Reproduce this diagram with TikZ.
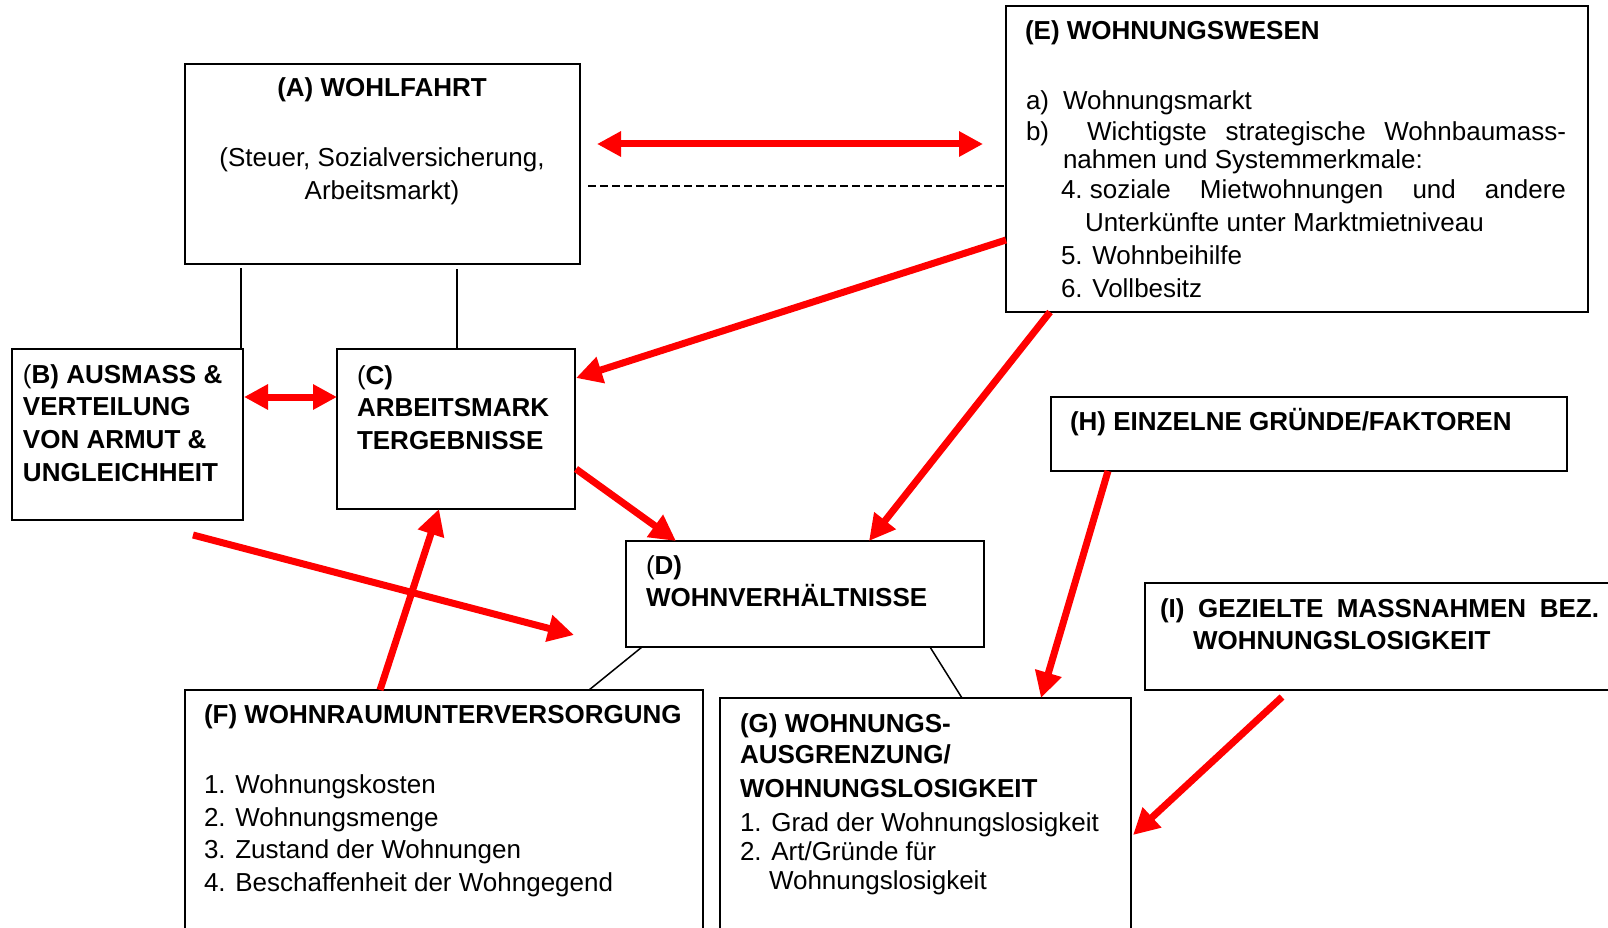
\documentclass[tikz,border=0pt]{standalone}
\usepackage{fontspec}
\setmainfont{Liberation Sans}
\usetikzlibrary{arrows.meta,calc}
\begin{document}
\begin{tikzpicture}[x=1pt,y=-1pt,
  box/.style={draw=black, line width=2pt, rectangle, inner sep=0pt, outer sep=0pt, anchor=north west},
  txt/.style={anchor=base west, inner sep=0pt, outer sep=0pt, font=\fontsize{26}{32}\selectfont},
  btxt/.style={txt, font=\fontsize{26}{32}\selectfont\bfseries},
  ctxt/.style={txt, anchor=base},
  link/.style={draw=black, line width=1.5pt},
  dashlink/.style={link, dash pattern=on 8pt off 4pt},
  redarrow/.style={draw=red, line width=7pt, -{Triangle[length=26pt,width=26pt]}},
  reddouble/.style={draw=red, line width=7pt, {Triangle[length=24pt,width=24pt]}-{Triangle[length=24pt,width=24pt]}},
]
\useasboundingbox (0,0) rectangle (1608,928);
\clip (0,0) rectangle (1608,928);
\fill[white] (0,0) rectangle (1608,928);

% boxes
\node[box, minimum width=395pt, minimum height=200pt] (A) at (185,64) {};
\node[box, minimum width=231pt, minimum height=171pt] (B) at (12,349) {};
\node[box, minimum width=238pt, minimum height=160pt] (C) at (337,349) {};
\node[box, minimum width=358pt, minimum height=106pt] (D) at (626,541) {};
\node[box, minimum width=582pt, minimum height=306pt] (E) at (1006,6) {};
\node[box, minimum width=518pt, minimum height=270pt] (F) at (185,690) {};
\node[box, minimum width=411pt, minimum height=262pt] (G) at (720,698) {};
\node[box, minimum width=516pt, minimum height=74pt] (H) at (1051,397) {};
\node[box, minimum width=480pt, minimum height=107pt] (I) at (1145,583) {};

% texts A
\node[ctxt, font=\fontsize{26}{32}\selectfont\bfseries] (At) at (382,97) {(A) WOHLFAHRT};
\node[ctxt] (A1) at (382,167) {(Steuer, Sozialversicherung,};
\node[ctxt] (A2) at (382,200) {Arbeitsmarkt)};

% texts E
\node[btxt] (Et) at (1025,40) {(E) WOHNUNGSWESEN};
\node[txt] (Ea) at (1026,110) {a)};
\node[txt] (Ea2) at (1063,110) {Wohnungsmarkt};
\node[txt] (Eb) at (1026,141) {b)};
\node[txt] (Eb2) at (1087,141) {\makebox[479pt][s]{Wichtigste\hfill strategische\hfill Wohnbaumass-}};
\node[txt] (Eb3) at (1063,169) {nahmen und Systemmerkmale:};
\node[txt] (E4) at (1061,199) {\makebox[505pt][s]{4.~soziale\hfill Mietwohnungen\hfill und\hfill andere}};
\node[txt] (E4b) at (1085,231) {Unterkünfte unter Marktmietniveau};
\node[txt] (E5) at (1061,264) {5. Wohnbeihilfe};
\node[txt] (E6) at (1061,297) {6. Vollbesitz};

% texts B
\node[btxt] (B1) at (23,383) {\mdseries(\bfseries B) AUSMASS \&};
\node[btxt] (B2) at (23,415) {VERTEILUNG};
\node[btxt] (B3) at (23,448) {VON ARMUT \&};
\node[btxt] (B4) at (23,481) {UNGLEICHHEIT};

% texts C
\node[btxt] (C1) at (357,384) {\mdseries(\bfseries C)};
\node[btxt] (C2) at (357,416) {ARBEITSMARK};
\node[btxt] (C3) at (357,449) {TERGEBNISSE};

% texts D
\node[btxt] (D1) at (646,574) {\mdseries(\bfseries D)};
\node[btxt] (D2) at (646,606) {WOHNVERHÄLTNISSE};

% texts H
\node[btxt] (H1) at (1070,430) {(H) EINZELNE GRÜNDE/FAKTOREN};

% texts I
\node[btxt] (I1) at (1160,617) {\makebox[439pt][s]{(I)\hfill GEZIELTE\hfill MASSNAHMEN\hfill BEZ.}};
\node[btxt] (I2) at (1193,649) {WOHNUNGSLOSIGKEIT};

% texts F
\node[btxt] (Ft) at (204,723) {(F) WOHNRAUMUNTERVERSORGUNG};
\node[txt] (F1) at (204,793) {1. Wohnungskosten};
\node[txt] (F2) at (204,826) {2. Wohnungsmenge};
\node[txt] (F3) at (204,858) {3. Zustand der Wohnungen};
\node[txt] (F4) at (204,891) {4. Beschaffenheit der Wohngegend};

% texts G
\node[btxt] (G1) at (740,732) {(G) WOHNUNGS-};
\node[btxt] (G2) at (740,763) {AUSGRENZUNG/};
\node[btxt] (G3) at (740,797) {WOHNUNGSLOSIGKEIT};
\node[txt] (G4) at (740,831) {1. Grad der Wohnungslosigkeit};
\node[txt] (G5) at (740,860) {2. Art/Gründe für};
\node[txt] (G6) at (769,889) {Wohnungslosigkeit};

% black connectors
\coordinate (ad) at (588,186);
\draw[dashlink] (ad) -- (ad -| E.west);
\coordinate (ab) at (241,268);
\draw[link] (ab) -- (ab |- B.north);
\coordinate (ac) at (457,269);
\draw[link] (ac) -- (ac |- C.north);
\draw[link] ($(D.south west)+(16,0)$) -- ($(F.north west)+(404,0)$);
\draw[link] ($(D.south west)+(304,0)$) -- ($(G.north west)+(242,0)$);

% red arrows
\coordinate (ae1) at (597,144);
\coordinate (ae2) at (983,144);
\draw[reddouble] (ae1) -- (ae2);
\draw[reddouble] ($(B.north east)+(1,48)$) -- ($(C.north west)+(0,48)$);
\draw[redarrow] ($(E.north west)+(0,234)$) -- ($(C.north east)+(1,29)$);
\draw[redarrow] ($(C.north east)+(1,120)$) -- ($(D.north west)+(50,0)$);
\draw[redarrow] ($(E.south west)+(44,0)$) -- ($(D.north west)+(243,0)$);
\coordinate (bs) at (193,535);
\coordinate (be) at (574,635);
\draw[redarrow] (bs) -- (be);
\draw[redarrow] ($(F.north west)+(195,0)$) -- ($(C.south west)+(102,0)$);
\draw[redarrow] ($(H.south west)+(57,0)$) -- ($(G.north west)+(321,0)$);
\coordinate (is) at (1282,697);
\draw[redarrow] (is) -- ($(G.north east)+(2,137)$);
\end{tikzpicture}
\end{document}
